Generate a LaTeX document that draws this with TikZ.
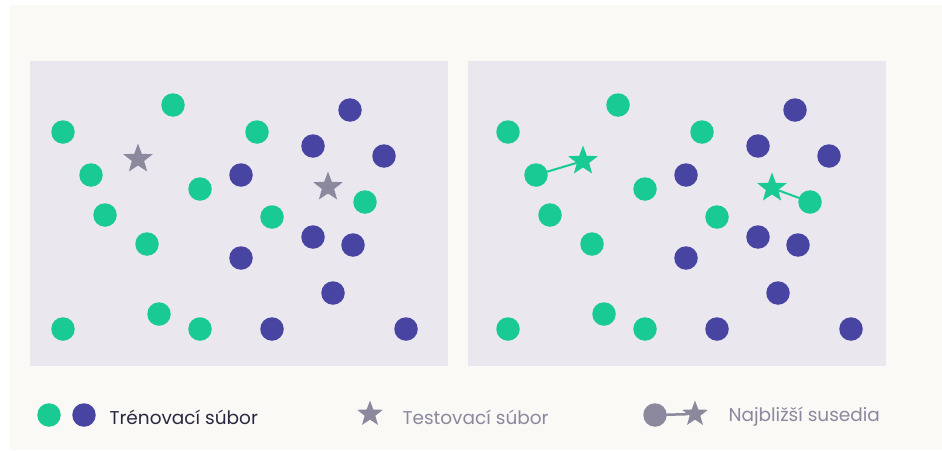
\documentclass[tikz,border=0pt]{standalone}
\usepackage{fontspec}
\setmainfont{Poppins}
\usetikzlibrary{shapes.geometric}
\definecolor{knngreen}{HTML}{19CB92}
\definecolor{knnblue}{HTML}{4744A2}
\definecolor{knngray}{HTML}{8C889D}
\definecolor{knnpanel}{HTML}{EAE7EE}
\definecolor{knnpaper}{HTML}{FAF9F6}
\definecolor{knnink}{HTML}{2A2840}
\begin{document}
\begin{tikzpicture}[x=1pt, y=-1pt, line join=round, line cap=round,
		font=\fontsize{18.5}{22}\selectfont,
		dot/.style={circle, inner sep=0pt, minimum size=23.5pt},
		gdot/.style={dot, fill=knngreen},
		bdot/.style={dot, fill=knnblue},
		pstar/.style={star, star points=5, star point ratio=2.4, inner sep=0pt, minimum size=31pt},
		teststar/.style={pstar, fill=knngray},
		hitstar/.style={pstar, fill=knngreen},
		hitline/.style={knngreen, line width=2pt},
		legtext/.style={anchor=west, text=knngray}]
	\useasboundingbox (0,0) rectangle (942,450);
	\fill[knnpaper] (10,5) rectangle (942,450);
	%\draw[gray!50,dashed] (0,0) grid[step=50] (942,450);
	% both panels, the right one shifted by 445
	\foreach \dx/\p in {0/L,445/R}{
		\fill[knnpanel] (30+\dx-\dx/63,61) rectangle (448+\dx-\dx/63,366);
		\foreach \x/\y [count=\i] in {63/132,173/105,257/132,91/175,200/189,105/215,
				272/217,365/202,147/244,63/329,159/314,200/329}
			\node[gdot] (g\p\i) at (\x+\dx,\y) {};
		\foreach \x/\y [count=\i] in {350/110,313/146,384/156,241/175,313/237,353/245,
				241/258,333/293,272/329,406/329}
			\node[bdot] (b\p\i) at (\x+\dx,\y) {};
	}
	% test points
	\node[teststar] (sL1) at (138,159) {};
	\node[teststar] (sL2) at (328,187) {};
	% classified by nearest neighbour
	\node[hitstar] (sR1) at (583,161) {};
	\node[hitstar] (sR2) at (772,188) {};
	\draw[hitline] (gR4) -- (sR1);
	\draw[hitline] (sR2) -- (gR8);
	% legend
	\node[gdot] (leg1) at (49,415) {};
	\node[bdot] (leg2) at (84,415) {};
	\node[anchor=west, text=knnink] (legtrain) at (106,417) {Trénovací súbor};
	\node[teststar, minimum size=27pt] (legstar) at (370,414) {};
	\node[legtext] (legtest) at (399,417) {Testovací súbor};
	\node[dot, fill=knngray] (legdot) at (655,415) {};
	\node[teststar, minimum size=27pt] (legnb) at (695,414) {};
	\draw[knngray, line width=2.5pt] (legdot) -- (legnb);
	\node[legtext] (legnear) at (725,417) {Najbližší susedia};
\end{tikzpicture}
\end{document}
